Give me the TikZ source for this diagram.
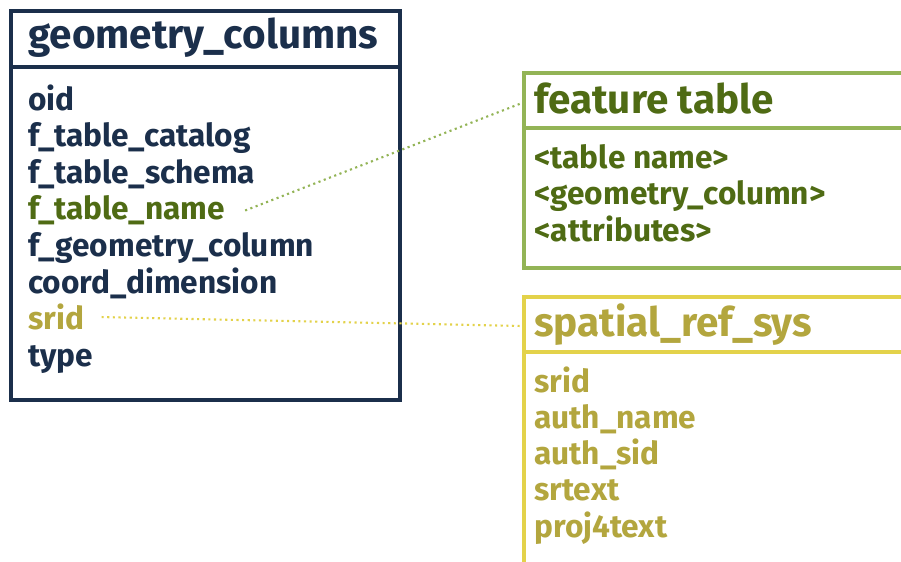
\documentclass[tikz,border=0pt]{standalone}
\usepackage{fontspec}
\setmainfont{Fira Sans}
\usepackage{tikz}
\usetikzlibrary{calc,positioning}
\definecolor{navy}{HTML}{1B2F4B}
\definecolor{leaf}{HTML}{4F6B14}
\definecolor{leafline}{HTML}{93B456}
\definecolor{ochre}{HTML}{B3A63E}
\definecolor{ochreline}{HTML}{E3D24A}
\tikzset{
  schema tables/.style = {
    x=0.02cm, y=-0.02cm,
    % Рамки таблиц
    tbl frame/.style = {line width=2.1pt},
    % Заголовок и поля
    tbl title/.style = {anchor=base west, inner sep=0pt, font=\fontsize{23}{23}\selectfont\bfseries},
    tbl item/.style  = {anchor=base west, inner sep=0pt, font=\fontsize{18}{18}\selectfont\bfseries},
    % Связи
    link line/.style = {line width=1.2pt, dotted},
  }
}
\begin{document}
\begin{tikzpicture}[schema tables]
\clip (0,0) rectangle (901,561);
\fill[white] (0,0) rectangle (901,561);

% geometry_columns
\draw[tbl frame, navy] (11,11) rectangle (400,400) (11,67) -- (400,67);
\node[tbl title, navy] (gctitle) at (28,48) {geometry\_columns};
\foreach \name/\txt/\col [count=\i from 0] in {
    gcoid/oid/navy, gccat/f\_table\_catalog/navy, gcschema/f\_table\_schema/navy,
    gcname/f\_table\_name/leaf, gcgeom/f\_geometry\_column/navy,
    gcdim/coord\_dimension/navy, gcsrid/srid/ochre, gctype/type/navy}
  \node[tbl item, text=\col] (\name) at (28,110+36.6*\i) {\txt};

% feature table
\draw[tbl frame, leafline] (1000,73) -- (524,73) -- (524,268) -- (1000,268) (524,128) -- (1000,128);
\node[tbl title, leaf] (fttitle) at (534,113) {feature table};
\foreach \name/\txt [count=\i from 0] in {
    ftname/<table name>, ftgeom/<geometry\_column>, ftattr/<attributes>}
  \node[tbl item, leaf] (\name) at (534,168+36.6*\i) {\txt};
\coordinate (ftlink) at (522,103);

% spatial_ref_sys
\draw[tbl frame, ochreline] (1000,297) -- (524,297) -- (524,600) (524,352) -- (1000,352);
\node[tbl title, ochre] (srtitle) at (534,336) {spatial\_ref\_sys};
\foreach \name/\txt [count=\i from 0] in {
    srsrid/srid, srauth/auth\_name, srsid/auth\_sid, srtext/srtext, srproj/proj4text}
  \node[tbl item, ochre] (\name) at (534,392+36.3*\i) {\txt};
\coordinate (srlink) at (522,326);

\draw[link line, leafline] ($(gcname.east)+(20,0)$) -- (ftlink);
\draw[link line, ochreline] ($(gcsrid.east)+(17,0)$) -- (srlink);
\end{tikzpicture}
\end{document}
